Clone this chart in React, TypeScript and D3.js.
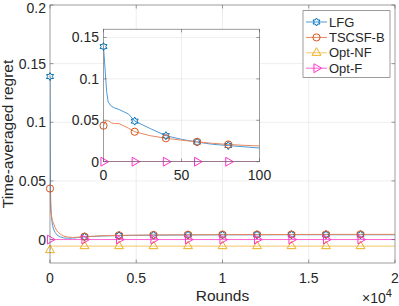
import React from 'react';
import * as d3 from 'd3';

// main plot (rounds up to 2e4)
const rounds = [0, 25, 50, 100, 150, 200, 300, 400, 600, 800, 1000, 1300, 1600, 2000, 3000, 4000, 6000, 8000, 10000, 12000, 14000, 16000, 18000, 20000];
const lfgMain = [0.139, 0.045, 0.027, 0.0169, 0.012, 0.009, 0.006, 0.004, 0.0022, 0.0014, 0.0011, 0.0012, 0.0016, 0.0023, 0.003, 0.0034, 0.0037, 0.0039, 0.004, 0.004, 0.0041, 0.0041, 0.0041, 0.0041];
const tscsfMain = [0.0435, 0.034, 0.026, 0.019, 0.016, 0.014, 0.01, 0.0075, 0.0045, 0.003, 0.0022, 0.0018, 0.002, 0.0025, 0.0032, 0.0036, 0.0039, 0.0041, 0.0042, 0.0043, 0.0043, 0.0044, 0.0044, 0.0044];
const optNFMain = [-0.009, -0.0056, -0.0056, -0.0056, -0.0056, -0.0056, -0.0056, -0.0056, -0.0056, -0.0056, -0.0056, -0.0056, -0.0056, -0.0056, -0.0056, -0.0056, -0.0056, -0.0056, -0.0056, -0.0056, -0.0056, -0.0056, -0.0056, -0.0056];
const optFMain = [0, 0, 0, 0, 0, 0, 0, 0, 0, 0, 0, 0, 0, 0, 0, 0, 0, 0, 0, 0, 0, 0, 0, 0];

// inset (first 100 rounds)
const insetRounds = [0, 1, 2, 3, 5, 7, 10, 16, 20, 30, 40, 50, 60, 70, 80, 90, 100];
const lfgInset = [0.139, 0.112, 0.085, 0.072, 0.067, 0.065, 0.063, 0.0576, 0.049, 0.040, 0.0314, 0.027, 0.0237, 0.021, 0.0195, 0.018, 0.0165];
const tscsfInset = [0.0435, 0.048, 0.049, 0.0495, 0.047, 0.046, 0.046, 0.0405, 0.0362, 0.0314, 0.0283, 0.026, 0.024, 0.0222, 0.0208, 0.0198, 0.019];
const optFInset = [0, 0, 0, 0, 0, 0, 0, 0, 0, 0, 0, 0, 0, 0, 0, 0, 0];

const names = ['LFG', 'TSCSF-B', 'Opt-NF', 'Opt-F'];
const mainTicksX = [0, 5000, 10000, 15000, 20000];
const mainTicksY = [0, 0.05, 0.1, 0.15, 0.2];
const insetTicksX = [0, 50, 100];
const insetTicksY = [0, 0.05, 0.1, 0.15];

const markerColors = ['#0072BD', '#D95319', '#EDB120', '#FF33CC'];
const lineColors = ['#4d9bd6', '#e8875f', '#f2c865', '#ff66d6'];
const font = '"Liberation Sans", Arial, Helvetica, sans-serif';
const txt = '#262626';

const hexagram = (r: number) => {
  const pts: [number, number][] = [];
  for (let i = 0; i < 12; i++) {
    const a = (Math.PI / 6) * i - Math.PI / 2;
    const rr = i % 2 === 0 ? r : r * 0.58;
    pts.push([rr * Math.cos(a), rr * Math.sin(a)]);
  }
  return 'M' + pts.map((p) => p.join(',')).join('L') + 'Z';
};

const Marker = ({ kind, x, y }: { kind: number; x: number; y: number }) => {
  const c = markerColors[kind];
  const common = { fill: 'none', stroke: c, strokeWidth: 1 };
  if (kind === 0) return <path d={hexagram(4)} transform={`translate(${x},${y})`} {...common} />;
  if (kind === 1) return <circle cx={x} cy={y} r={3.6} {...common} />;
  const tri = d3.symbol(d3.symbolTriangle, 34)()!;
  return <path d={tri} transform={`translate(${x},${y}) rotate(${kind === 2 ? 0 : 90})`} {...common} />;
};

export default function App() {
  const x = d3.scaleLinear().domain([0, 20000]).range([50, 395]);
  const y = d3.scaleLinear().domain([-0.02, 0.2]).range([263, 5]);
  const ix = d3.scaleLinear().domain([0, 100]).range([103.5, 259.5]);
  const iy = d3.scaleLinear().domain([0, 0.16]).range([161.7, 29.2]);

  const mainSeries = [lfgMain, tscsfMain, optNFMain, optFMain];
  const insetSeries: [number, number[]][] = [[0, lfgInset], [1, tscsfInset], [3, optFInset]];

  const line = (sx: any, sy: any, xs: number[]) =>
    d3.line<number>().x((_, i) => sx(xs[i])).y((d) => sy(d));

  const gridC = '#e3e3e3';
  const boxC = '#5a5a5a';

  return (
    <svg width={399} height={306} style={{ position: 'fixed', left: 0, top: 0, background: '#fff' }} fontFamily={font}>
      <defs>
        <clipPath id="mainClip"><rect x={50} y={5} width={345} height={258} /></clipPath>
        <clipPath id="insetClip"><rect x={103.5} y={29.2} width={156} height={132.5} /></clipPath>
      </defs>
      {/* main axes */}
      <rect x={50} y={5} width={345} height={258} fill="#fff" />
      {mainTicksX.slice(1, -1).map((t) => (
        <line key={'gx' + t} x1={x(t)} x2={x(t)} y1={5} y2={263} stroke={gridC} strokeWidth={0.6} />
      ))}
      {mainTicksY.slice(0, -1).map((t) => (
        <line key={'gy' + t} x1={50} x2={395} y1={y(t)} y2={y(t)} stroke={gridC} strokeWidth={0.6} />
      ))}
      <g clipPath="url(#mainClip)">
        {mainSeries.map((s, k) => (
          <path key={'l' + k} d={line(x, y, rounds)(s)!} fill="none" stroke={lineColors[k]} strokeWidth={1} />
        ))}
      </g>
      {mainSeries.map((s, k) =>
        s.map((v, i) =>
          rounds[i] % 2000 === 0 && rounds[i] < 20000 ? <Marker key={`m${k}-${i}`} kind={k} x={x(rounds[i])} y={y(v)} /> : null
        )
      )}
      <rect x={50} y={5} width={345} height={258} fill="none" stroke={boxC} strokeWidth={0.6} />
      {mainTicksX.map((t) => (
        <g key={'tx' + t}>
          <line x1={x(t)} x2={x(t)} y1={263} y2={259.5} stroke={boxC} strokeWidth={0.6} />
          <line x1={x(t)} x2={x(t)} y1={5} y2={8.5} stroke={boxC} strokeWidth={0.6} />
          <text x={x(t)} y={282.5} textAnchor="middle" fontSize={14} fill={txt}>{t / 10000}</text>
        </g>
      ))}
      {mainTicksY.map((t) => (
        <g key={'ty' + t}>
          <line x1={50} x2={53.5} y1={y(t)} y2={y(t)} stroke={boxC} strokeWidth={0.6} />
          <line x1={395} x2={391.5} y1={y(t)} y2={y(t)} stroke={boxC} strokeWidth={0.6} />
          <text x={46} y={Math.max(y(t) + 5, 13)} textAnchor="end" fontSize={14} fill={txt}>{t}</text>
        </g>
      ))}
      <text x={222.5} y={301} textAnchor="middle" fontSize={15.5} fill={txt}>Rounds</text>
      <text x={362} y={303} fontSize={14} fill={txt}>×10<tspan dy={-6} fontSize={11}>4</tspan></text>
      <text transform="translate(13,134) rotate(-90)" textAnchor="middle" fontSize={15.5} fill={txt}>Time-averaged regret</text>

      {/* inset axes */}
      <rect x={103.5} y={29.2} width={156} height={132.5} fill="#fff" />
      {insetTicksX.slice(1, -1).map((t) => (
        <line key={'igx' + t} x1={ix(t)} x2={ix(t)} y1={29.2} y2={161.7} stroke={gridC} strokeWidth={0.6} />
      ))}
      {insetTicksY.slice(1).map((t) => (
        <line key={'igy' + t} x1={103.5} x2={259.5} y1={iy(t)} y2={iy(t)} stroke={gridC} strokeWidth={0.6} />
      ))}
      <g clipPath="url(#insetClip)">
        {insetSeries.map(([k, s]) => (
          <path key={'il' + k} d={line(ix, iy, insetRounds)(s)!} fill="none" stroke={lineColors[k]} strokeWidth={1} />
        ))}
      </g>
      {insetSeries.map(([k, s]) =>
        s.map((v, i) =>
          insetRounds[i] % 20 === 0 && insetRounds[i] < 100 ? <Marker key={`im${k}-${i}`} kind={k} x={ix(insetRounds[i])} y={iy(v)} /> : null
        )
      )}
      <rect x={103.5} y={29.2} width={156} height={132.5} fill="none" stroke={boxC} strokeWidth={0.6} />
      {insetTicksX.map((t) => (
        <g key={'itx' + t}>
          <line x1={ix(t)} x2={ix(t)} y1={161.7} y2={158.5} stroke={boxC} strokeWidth={0.6} />
          <line x1={ix(t)} x2={ix(t)} y1={29.2} y2={32.4} stroke={boxC} strokeWidth={0.6} />
          <text x={ix(t)} y={180} textAnchor="middle" fontSize={14} fill={txt}>{t}</text>
        </g>
      ))}
      {insetTicksY.map((t) => (
        <g key={'ity' + t}>
          <line x1={103.5} x2={106.7} y1={iy(t)} y2={iy(t)} stroke={boxC} strokeWidth={0.6} />
          <line x1={259.5} x2={256.3} y1={iy(t)} y2={iy(t)} stroke={boxC} strokeWidth={0.6} />
          <text x={99} y={iy(t) + 5} textAnchor="end" fontSize={14} fill={txt}>{t}</text>
        </g>
      ))}

      {/* legend */}
      <rect x={303} y={10.7} width={87} height={66.8} fill="#fff" stroke={boxC} strokeWidth={0.6} />
      {names.map((n, k) => {
        const ly = 22 + k * 15.4;
        return (
          <g key={n}>
            <line x1={306} x2={327} y1={ly} y2={ly} stroke={lineColors[k]} strokeWidth={1} />
            <Marker kind={k} x={316.5} y={ly} />
            <text x={329} y={ly + 4.5} fontSize={13} fill={txt}>{n}</text>
          </g>
        );
      })}
    </svg>
  );
}
